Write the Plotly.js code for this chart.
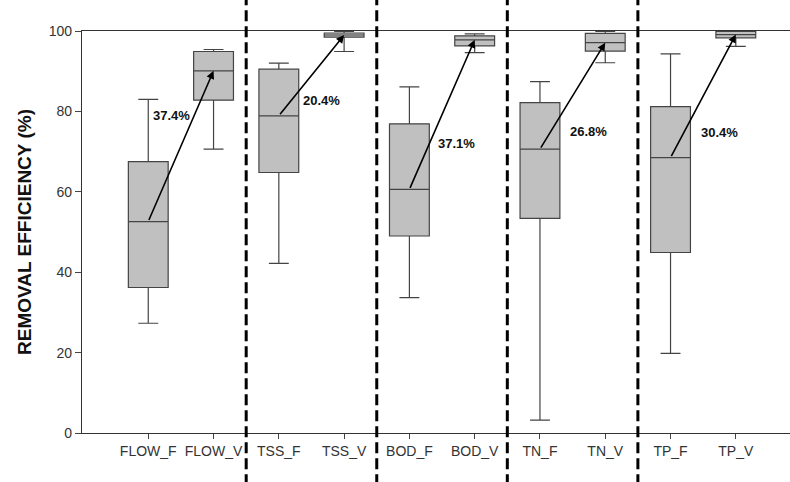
<!DOCTYPE html>
<html>
<head>
<meta charset="utf-8">
<script src="https://cdn.plot.ly/plotly-3.0.1.min.js"></script>
<style>html,body{margin:0;padding:0;background:#fff;}#chart{width:790px;height:482px;}</style>
</head>
<body>
<div id="chart"></div>
<script>
// ---- data ----
const categories = ["FLOW_F","FLOW_V","TSS_F","TSS_V","BOD_F","BOD_V","TN_F","TN_V","TP_F","TP_V"];
const lowerWhisker = [27.3, 70.6, 42.2, 94.9, 33.7, 94.6,  3.2, 92.1, 19.8, 96.2];
const q1Values     = [36.2, 82.8, 64.8, 98.5, 49.0, 96.3, 53.4, 95.0, 44.9, 98.3];
const medianValues = [52.6, 90.1, 78.9, 99.0, 60.6, 97.8, 70.6, 97.1, 68.5, 99.1];
const q3Values     = [67.5, 94.9, 90.5, 99.5, 76.9, 98.8, 82.2, 99.4, 81.2, 99.9];
const upperWhisker = [83.0, 95.4, 92.0, 99.9, 86.1, 99.3, 87.4, 99.9, 94.3, 100.0];
const improvementLabels = ["37.4%","20.4%","37.1%","26.8%","30.4%"];
const yTickValues = [0, 20, 40, 60, 80, 100];

// ---- layout constants ----
const xRange = [-1.015, 9.83];
const labelPos = [[0.36, 78.9],[2.65, 82.8],[4.72, 72.1],[6.74, 75.1],[8.75, 74.8]];
const tickFont = {family: "Liberation Sans, Arial, sans-serif", size: 14, color: "#333"};

const boxTrace = {
  type: "box",
  x: categories,
  q1: q1Values,
  median: medianValues,
  q3: q3Values,
  lowerfence: lowerWhisker,
  upperfence: upperWhisker,
  width: 0.61,
  whiskerwidth: 0.5,
  fillcolor: "#c0c0c0",
  line: {color: "#444", width: 1.2},
  boxpoints: false,
  hoverinfo: "skip",
  showlegend: false
};

const shapes = [];
const annotations = [];
const nGroups = categories.length / 2;
for (let g = 0; g < nGroups; g++) {
  const fi = 2 * g, vi = 2 * g + 1;
  annotations.push({
    xref: "x", yref: "y", axref: "x", ayref: "y",
    x: vi, y: medianValues[vi], ax: fi, ay: medianValues[fi],
    text: "", showarrow: true, arrowhead: 2, arrowsize: 1, arrowwidth: 1.6,
    arrowcolor: "#000", standoff: 0, startstandoff: 0
  });
  annotations.push({
    xref: "x", yref: "y", x: labelPos[g][0], y: labelPos[g][1],
    text: improvementLabels[g], showarrow: false,
    font: {family: "Liberation Sans, Arial, sans-serif", size: 13, color: "#111", weight: "bold"}
  });
  if (g < nGroups - 1) {
    const px = (vi + 0.5 - xRange[0]) / (xRange[1] - xRange[0]);
    shapes.push({
      type: "line", xref: "paper", yref: "paper",
      x0: px, x1: px, y0: -0.13, y1: 1.09,
      line: {color: "#000", width: 3, dash: "11px,5px"}
    });
  }
}

const layout = {
  width: 790, height: 482,
  margin: {l: 82, r: 0, t: 31, b: 49},
  paper_bgcolor: "#fff", plot_bgcolor: "#fff",
  showlegend: false,
  xaxis: {
    type: "category",
    range: xRange,
    showline: true, linecolor: "#333", linewidth: 1.2, mirror: true,
    ticks: "outside", ticklen: 5, tickcolor: "#444",
    showgrid: false, zeroline: false,
    tickfont: tickFont,
    fixedrange: true
  },
  yaxis: {
    range: [0, 100],
    tickvals: yTickValues,
    showline: true, linecolor: "#333", linewidth: 1.2,
    ticks: "outside", ticklen: 6, tickcolor: "#444",
    showgrid: false, zeroline: false,
    tickfont: tickFont,
    title: {text: "REMOVAL EFFICIENCY (%)", standoff: 12,
            font: {family: "Liberation Sans, Arial, sans-serif", size: 19, color: "#111", weight: "bold"}},
    fixedrange: true
  },
  shapes: shapes,
  annotations: annotations
};

Plotly.newPlot("chart", [boxTrace], layout, {displayModeBar: false, staticPlot: true});
</script>
</body>
</html>
